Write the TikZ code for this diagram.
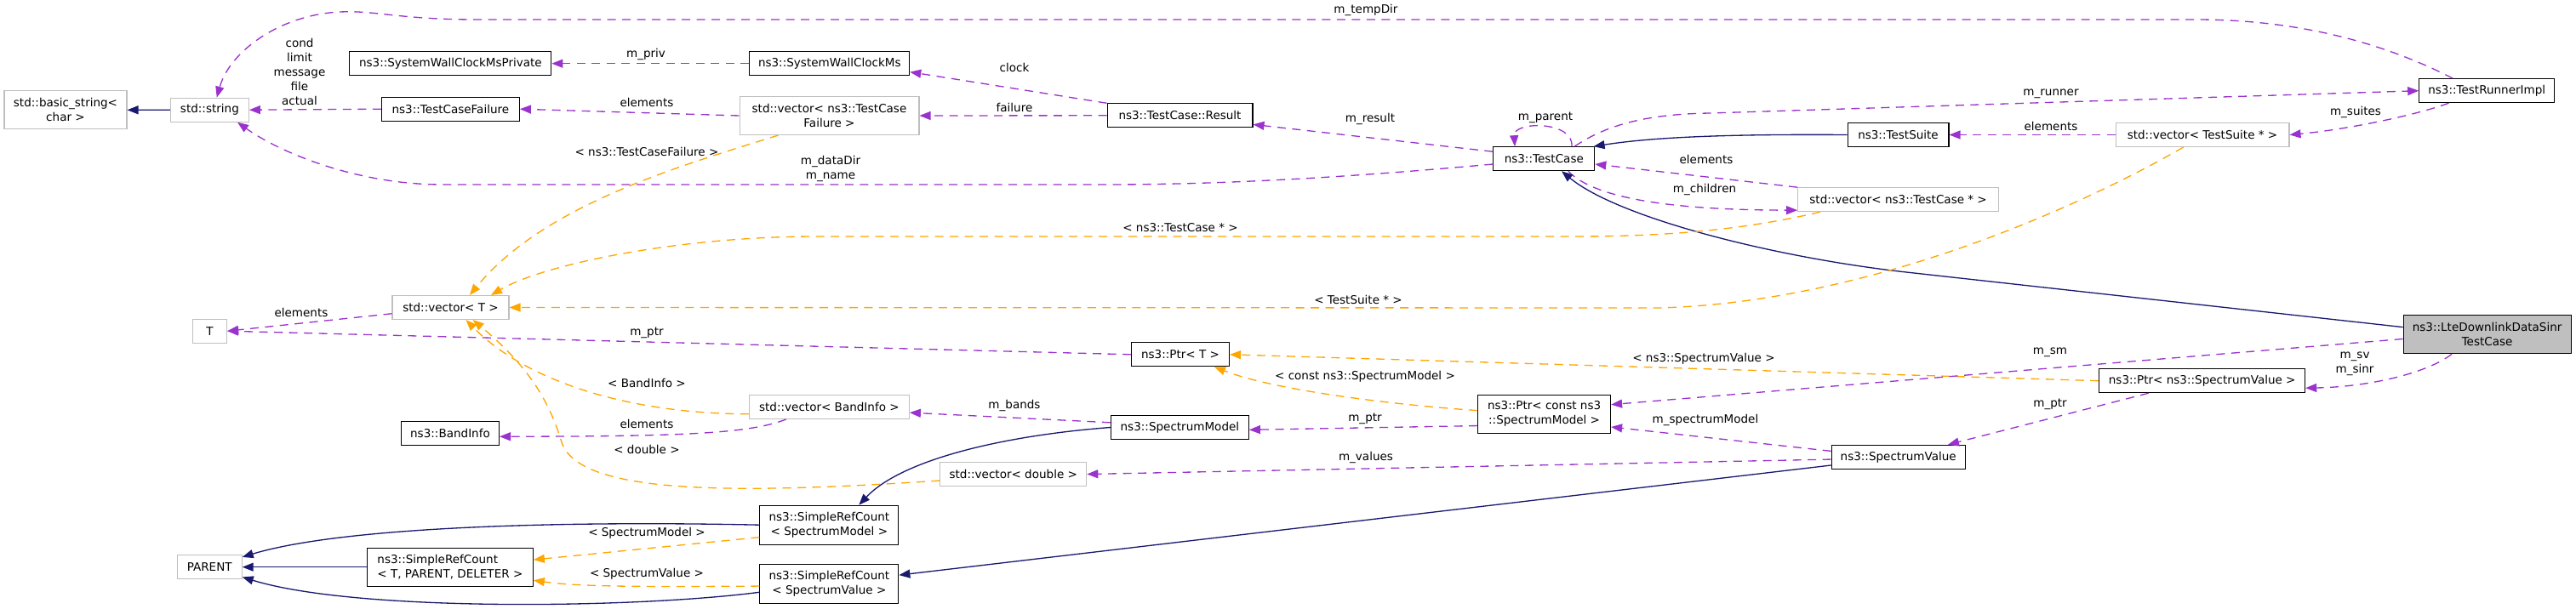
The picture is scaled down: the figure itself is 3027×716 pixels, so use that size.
\documentclass[tikz,border=0pt]{standalone}
\usepackage{fontspec}
\setmainfont{DejaVu Sans}
\usetikzlibrary{arrows.meta}
\definecolor{memberpurple}{HTML}{9A32CD}
\definecolor{templorange}{HTML}{FFA500}
\definecolor{inhnavy}{HTML}{191970}
\definecolor{boxgray}{HTML}{BFBFBF}
\tikzset{
  cls/.style={draw=black, line width=0.6pt, minimum height=0.56cm, inner sep=0pt, align=center},
  tpl/.style={cls, draw=boxgray},
  lbl/.style={inner sep=0pt, align=center},
  member/.style={draw=memberpurple, line width=0.75pt, dash pattern=on 0.2cm off 0.15cm,
    -{Triangle[length=0.26cm, width=0.2cm]}},
  templ/.style={member, draw=templorange},
  inherit/.style={draw=inhnavy, line width=0.75pt, -{Triangle[length=0.26cm, width=0.2cm]}}
}

\begin{document}
\begin{tikzpicture}[x=0.02cm, y=-0.02cm, font=\fontsize{7.7pt}{9.7pt}\selectfont]
   \useasboundingbox (0,0) rectangle (3027,716);
   \begin{scope}
    \node[tpl, minimum width=2.88cm, minimum height=0.9cm] (bstr) at (77,129.3) {std::basic\_string<\\char >};
    \node[tpl, minimum width=1.84cm] (str) at (246.4,129.2) {std::string};
    \node[cls, minimum width=4.74cm] (wcpriv) at (529.4,74.7) {ns3::SystemWallClockMsPrivate};
    \node[cls, minimum width=3.24cm] (tcf) at (529.4,128.2) {ns3::TestCaseFailure};
    \node[cls, minimum width=3.76cm] (wclock) at (974.8,74.7) {ns3::SystemWallClockMs};
    \node[tpl, minimum width=4.22cm, minimum height=0.9cm] (vtcf) at (974.5,136) {std::vector< ns3::TestCase\\Failure >};
    \node[cls, minimum width=3.42cm] (result) at (1386.5,135.8) {ns3::TestCase::Result};
    \node[cls, minimum width=2.38cm] (tcase) at (1814.3,186.7) {ns3::TestCase};
    \node[cls, minimum width=2.38cm] (tsuite) at (2230.5,158.5) {ns3::TestSuite};
    \node[tpl, minimum width=4.72cm] (vtc) at (2230.6,234.7) {std::vector< ns3::TestCase * >};
    \node[cls, minimum width=3.18cm] (runner) at (2922.2,106.7) {ns3::TestRunnerImpl};
    \node[tpl, minimum width=4.08cm] (vts) at (2588,158.5) {std::vector< TestSuite * >};
    \node[tpl, minimum width=0.8cm] (tparam) at (246.6,389.2) {T};
    \node[tpl, minimum width=2.74cm] (vt) at (529.5,361.5) {std::vector< T >};
    \node[cls, minimum width=2.3cm] (ptrt) at (1387,416.8) {ns3::Ptr< T >};
    \node[cls, minimum width=3.12cm, minimum height=0.9cm] (ptrsm) at (1814.6,486.7) {ns3::Ptr< const ns3\\::SpectrumModel >};
    \node[cls, minimum width=3.24cm] (smodel) at (1386.4,502.5) {ns3::SpectrumModel};
    \node[tpl, minimum width=3.76cm] (vband) at (974.4,478.5) {std::vector< BandInfo >};
    \node[cls, minimum width=2.3cm] (band) at (529,509.2) {ns3::BandInfo};
    \node[tpl, minimum width=3.44cm] (vdbl) at (1190.8,557.5) {std::vector< double >};
    \node[cls, minimum width=3.14cm] (svalue) at (2230.7,537.3) {ns3::SpectrumValue};
    \node[cls, minimum width=3.26cm, minimum height=0.92cm] (srcsm) at (974.4,617.2) {ns3::SimpleRefCount\\< SpectrumModel >};
    \node[cls, minimum width=3.26cm, minimum height=0.92cm] (srcsv) at (974.4,686.2) {ns3::SimpleRefCount\\< SpectrumValue >};
    \node[cls, minimum width=3.9cm, minimum height=0.9cm, align=left] (srct) at (528.9,666.7) {ns3::SimpleRefCount\\< T, PARENT, DELETER >};
    \node[tpl, minimum width=1.52cm] (parent) at (246.2,666.7) {PARENT};
    \node[cls, minimum width=3.94cm, minimum height=0.9cm, fill=boxgray] (lte) at (2922.6,393.3) {ns3::LteDownlinkDataSinr\\TestCase};
    \node[cls, minimum width=4.84cm] (ptrsv) at (2587.7,447.7) {ns3::Ptr< ns3::SpectrumValue >};
   \end{scope}
   \begin{scope}
    \draw[inherit] (str.west) -- (bstr.east);
    \draw[member] (tcf.west) -- (str.east);
    \draw[member] (wclock.west) -- (wcpriv.east);
    \draw[member] (vtcf.west) -- (tcf.east);
    \draw[member] (result.north west) -- (wclock.-6);
    \draw[member] (result.west) -- (vtcf.east);
    \draw[member] (tcase.172) -- (result.-7);
    \draw[member] (tcase.186) .. controls (1600,207) and (1450,217) .. (1300,217) -- (520,217)
      .. controls (420,217) and (330,180) .. (str.-24);
    \draw[member] (runner.160) .. controls (2800,50) and (2700,23) .. (2580,23) -- (560,23)
      .. controls (470,23) and (440,12) .. (400,14) .. controls (330,17) and (270,60) .. (str.60);
    \draw[member] (tcase.24) .. controls (1850,142) and (1778,142) .. (tcase.157);
    \draw[inherit] (tsuite.west) .. controls (2050,157.7) and (1950,160) .. (tcase.14);
    \draw[member] (vtc.north west) -- (tcase.-6);
    \draw[member] (tcase.-27) .. controls (1870,230) and (1950,247) .. (vtc.186);
    \draw[member] (tcase.22) .. controls (1890,145) and (1940,134) .. (2010,133) -- (runner.west);
    \draw[member] (runner.198) .. controls (2840,135) and (2760,152) .. (vts.east);
    \draw[member] (vts.west) -- (tsuite.east);
    \draw[inherit] (lte.175) -- (2240,320) .. controls (2080,302) and (1900,255) .. (tcase.-35);
    \draw[templ] (vtc.189) .. controls (2050,270) and (1960,278) .. (1850,278) -- (960,278)
      .. controls (800,278) and (640,310) .. (vt.17);
    \draw[templ] (vtcf.201) .. controls (800,195) and (640,240) .. (vt.33);
    \draw[templ] (vts.213) .. controls (2450,240) and (2200,355) .. (1950,362) -- (vt.east);
    \draw[member] (vt.186) -- (tparam.east);
    \draw[member] (ptrt.west) -- (tparam.east);
    \draw[templ] (ptrsv.west) -- (ptrt.east);
    \draw[templ] (ptrsm.177) .. controls (1650,477) and (1500,460) .. (ptrt.-20);
    \draw[member] (lte.183) -- (ptrsm.8);
    \draw[member] (lte.209) .. controls (2850,440) and (2780,455) .. (ptrsv.-4);
    \draw[member] (ptrsv.193) -- (svalue.14);
    \draw[member] (svalue.182) -- (vdbl.east);
    \draw[member] (svalue.175) -- (ptrsm.-11);
    \draw[inherit] (svalue.187) -- (srcsv.7);
    \draw[member] (ptrsm.190) -- (smodel.-2);
    \draw[member] (smodel.176) -- (vband.-4);
    \draw[member] (vband.196) .. controls (880,510) and (800,513) .. (band.-4);
    \draw[templ] (vband.185) .. controls (720,486) and (610,440) .. (vt.-39);
    \draw[templ] (vdbl.185) .. controls (850,582) and (680,580) .. (660,520)
      .. controls (645,470) and (620,430) .. (vt.-29);
    \draw[inherit] (smodel.west) .. controls (1180,512) and (1060,540) .. (srcsm.34);
    \draw[inherit] (srct.west) -- (parent.east);
    \draw[inherit] (srcsm.west) .. controls (650,612) and (400,620) .. (parent.17);
    \draw[inherit] (srcsv.187) .. controls (750,715) and (420,720) .. (parent.-17);
    \draw[templ] (srcsm.190) -- (srct.5);
    \draw[templ] (srcsv.182) .. controls (760,690) and (680,690) .. (srct.-9);
   \end{scope}
   \begin{scope}
    \node[lbl] (lcond) at (352,84.5) {cond\\limit\\message\\file\\actual};
    \node[lbl] (lpriv) at (759,64) {m\_priv};
    \node[lbl] (ltcfel) at (760,120) {elements};
    \node[lbl] (lclock) at (1192,79) {clock};
    \node[lbl] (lfail) at (1192,126) {failure};
    \node[lbl] (lresult) at (1610,140) {m\_result};
    \node[lbl] (ldir) at (976,198.5) {m\_dataDir\\m\_name};
    \node[lbl] (ltemp) at (1605,12) {m\_tempDir};
    \node[lbl] (lvtcf) at (760,178) {< ns3::TestCaseFailure >};
    \node[lbl] (lvtc) at (1387,268) {< ns3::TestCase * >};
    \node[lbl] (lparent) at (1816,138) {m\_parent};
    \node[lbl] (ltcel) at (2005,187) {elements};
    \node[lbl] (lchild) at (2003,223) {m\_children};
    \node[lbl] (lrunner) at (2410,110) {m\_runner};
    \node[lbl] (ltsel) at (2410,148) {elements};
    \node[lbl] (lsuites) at (2768,132) {m\_suites};
    \node[lbl] (lvts) at (1596,352) {< TestSuite * >};
    \node[lbl] (ltel) at (354,367) {elements};
    \node[lbl] (ltptr) at (760,391) {m\_ptr};
    \node[lbl] (lpsv) at (2002,422) {< ns3::SpectrumValue >};
    \node[lbl] (lpsm) at (1604,443) {< const ns3::SpectrumModel >};
    \node[lbl] (lsmptr) at (1604,492) {m\_ptr};
    \node[lbl] (lbands) at (1192,477) {m\_bands};
    \node[lbl] (lvband) at (760,450) {< BandInfo >};
    \node[lbl] (lbandel) at (760,498) {elements};
    \node[lbl] (lvdbl) at (760,528) {< double >};
    \node[lbl] (lvalues) at (1605,538) {m\_values};
    \node[lbl] (lsmodel) at (2004,494) {m\_spectrumModel};
    \node[lbl] (lsrcsm) at (760,627) {< SpectrumModel >};
    \node[lbl] (lsrcsv) at (760,675) {< SpectrumValue >};
    \node[lbl] (lsm) at (2409,414) {m\_sm};
    \node[lbl] (lsv) at (2767,428) {m\_sv\\m\_sinr};
    \node[lbl] (lsvptr) at (2409,475) {m\_ptr};
   \end{scope}
  \end{tikzpicture}
\end{document}
